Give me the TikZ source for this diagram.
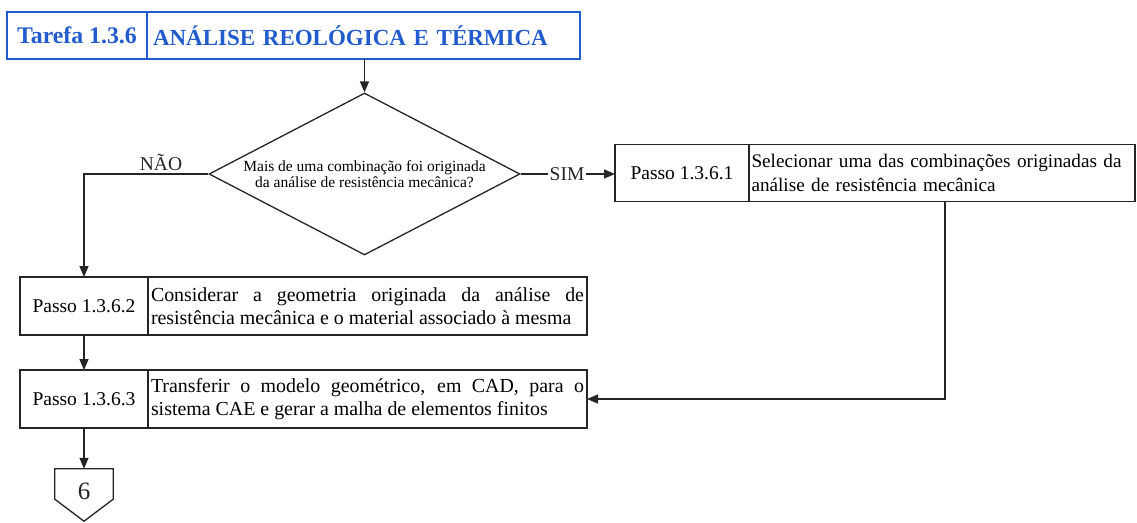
\documentclass[tikz,border=0pt]{standalone}
\usepackage{fontspec}
\setmainfont{Liberation Serif}
\usetikzlibrary{shapes.geometric,arrows.meta,calc}
\definecolor{titleblue}{RGB}{34,92,204}
\definecolor{ink}{RGB}{35,38,35}
\begin{document}
\begin{tikzpicture}[x=1pt,y=-1pt,
  base/.style={draw=ink, line width=1.3pt, inner sep=0pt, outer sep=0pt, rectangle},
  lbl/.style={base, minimum width=128pt, minimum height=58pt, font=\fontsize{19.5}{22}\selectfont},
  txt/.style={base, minimum height=58pt, inner xsep=3pt, font=\fontsize{19.9}{23.5}\selectfont},
  ttl/.style={draw=titleblue, line width=1.6pt, inner sep=0pt, outer sep=0pt, text=titleblue,
     font=\bfseries\fontsize{23}{26}\selectfont, minimum height=47pt},
  arr/.style={draw=ink, line width=1.3pt, -{Triangle[length=11pt,width=9pt]}},
  conn/.style={draw=ink, line width=1.3pt},
  lab/.style={font=\fontsize{19.5}{22}\selectfont, text=ink, inner sep=1pt}
]
\useasboundingbox (0,0) rectangle (1137,522);
\fill[white] (0,0) rectangle (1137,522);

% title
\node[ttl, minimum width=140pt, font=\bfseries\fontsize{23.8}{26}\selectfont] (t1) at (77,35.5) {Tarefa 1.3.6};
\node[ttl, text width=421pt, inner xsep=6pt, align=left] (t2) at (363.5,35.5) {ANÁLISE REOLÓGICA E TÉRMICA};

% decision
\node[diamond, draw=ink, line width=1.3pt, inner sep=0pt, minimum width=311pt, minimum height=162pt,
      shape aspect=1.92, align=center, font=\fontsize{15.5}{16.5}\selectfont] (dia) at (364.5,174)
      {Mais de uma combinação foi originada\\da análise de resistência mecânica?};

\node[lab] (sim) at (567,174) {SIM};
\node[lab, anchor=south] (nao) at (161,172) {NÃO};

% step 1.3.6.1
\node[lbl, minimum width=134pt, minimum height=57pt] (p1a) at (682,173) {Passo 1.3.6.1};
\node[txt, minimum height=57pt, text width=381pt, inner xsep=2.5pt, align=left,
      font=\fontsize{19.2}{23.5}\selectfont] (p1b) at (942,173)
  {Selecionar uma das combinações originadas da\\análise de resistência mecânica};

% step 1.3.6.2
\node[lbl] (p2a) at (84,306) {Passo 1.3.6.2};
\node[txt, text width=433pt, align=justify] (p2b) at (367.5,306)
  {Considerar a geometria originada da análise de\linebreak resistência mecânica e o material associado à mesma};

% step 1.3.6.3
\node[lbl] (p3a) at (84,399) {Passo 1.3.6.3};
\node[txt, text width=433pt, align=justify] (p3b) at (367.5,399)
  {Transferir o modelo geométrico, em CAD, para o\linebreak sistema CAE e gerar a malha de elementos finitos};

% off-page connector
\node[rectangle, inner sep=0pt, minimum width=58pt, minimum height=30pt] (c6) at (84,484) {};
\draw[conn, line join=miter] (c6.north west) -- (c6.north east) -- (c6.south east)
   -- ($(c6.south)+(0,22)$) -- (c6.south west) -- cycle;
\node[font=\fontsize{25}{26}\selectfont, text=ink] (six) at (84,491) {6};

\coordinate (k) at (945,399);

% connectors
\draw[arr] (dia.north |- t2.south) -- (dia.north);
\draw[conn] (dia.east) -- (sim.west);
\draw[arr] (sim.east) -- (sim.east -| p1a.west);
\draw[arr] (dia.west) -| (p2a.north);
\draw[arr] (p2a.south) -- (p3a.north);
\draw[arr] (p3a.south) -- (c6.north);
\draw[arr] (p1b.south -| k) -- (k) -- (p3b.east);
\end{tikzpicture}
\end{document}
